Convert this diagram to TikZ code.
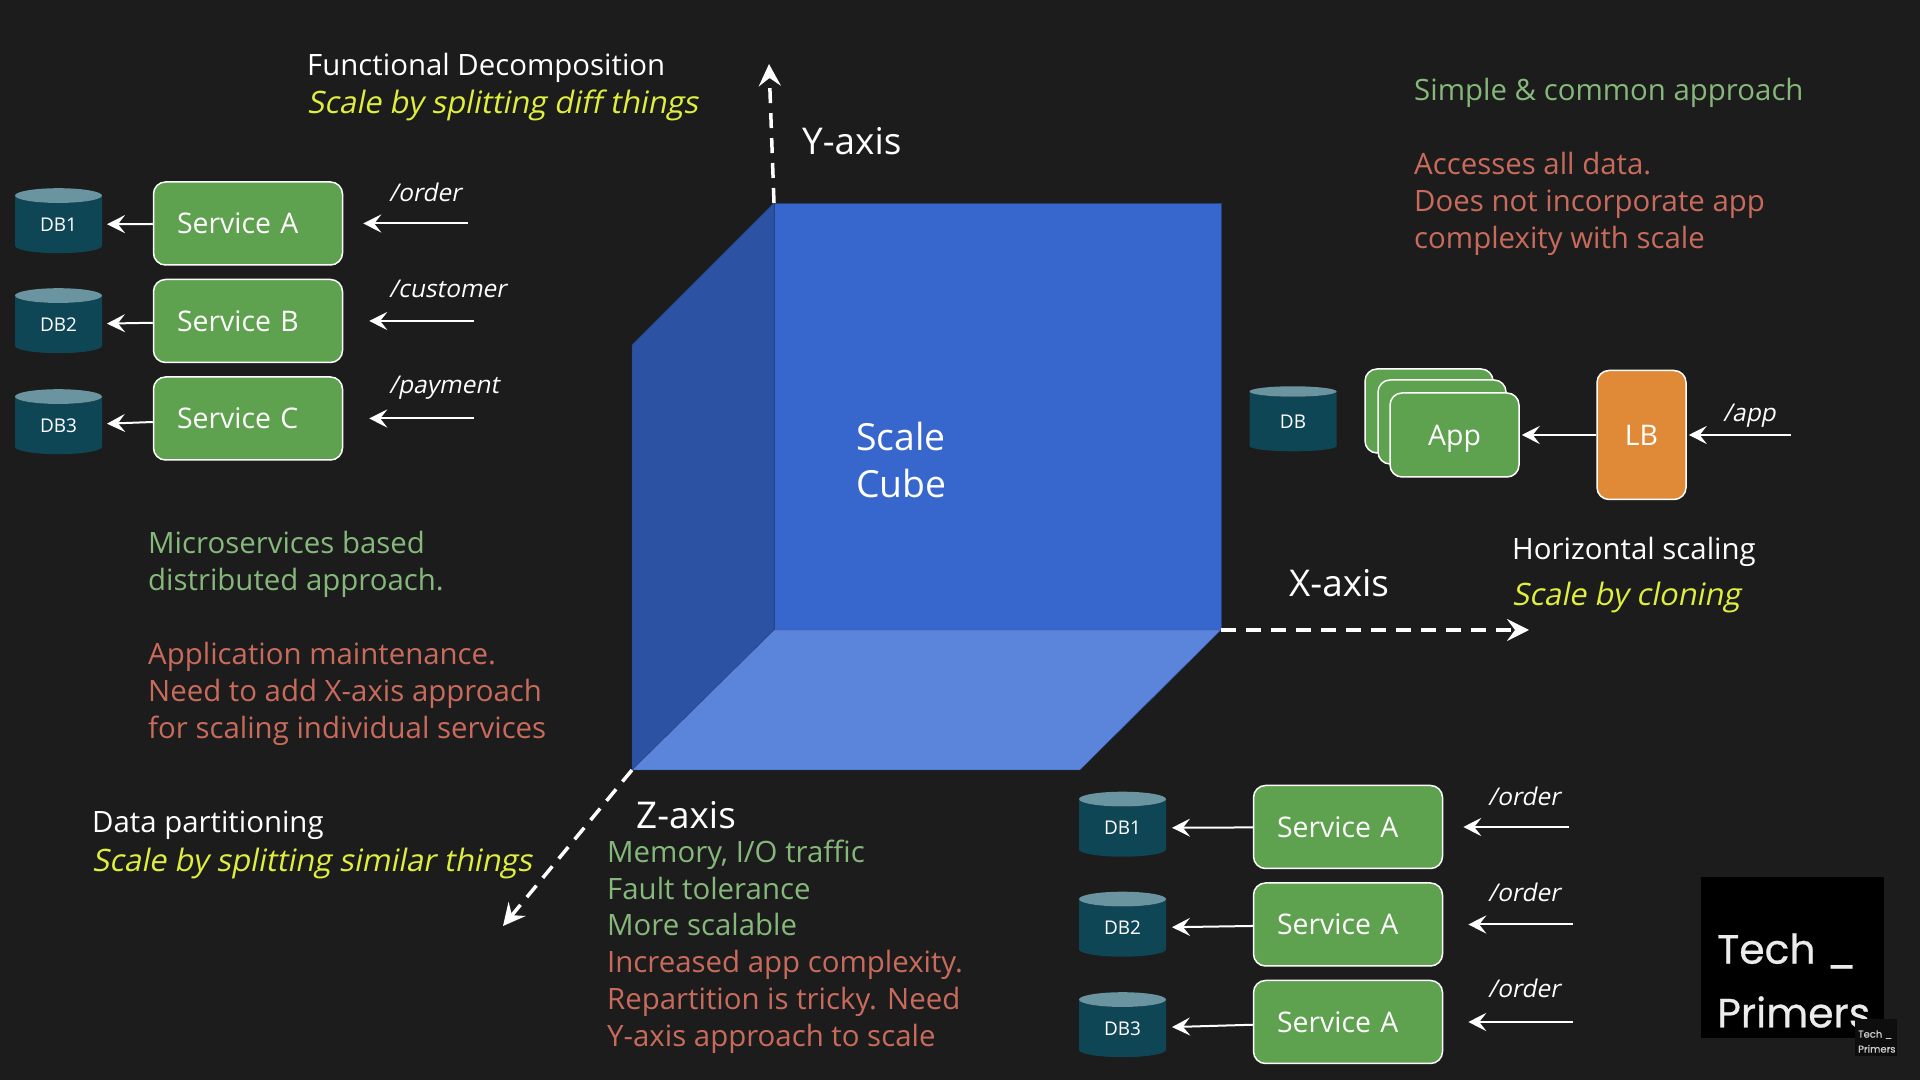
\documentclass[tikz,border=0pt]{standalone}
\usepackage{fontspec}
\setmainfont{Open Sans}
\newfontfamily\slantfont[FakeSlant=0.2]{Open Sans}
\newfontfamily\logofont[FakeBold=0.6]{Poppins}
\usetikzlibrary{arrows.meta,shapes.geometric}
\definecolor{bgdark}{HTML}{1C1C1C}
\definecolor{cubefront}{HTML}{3767CC}
\definecolor{cubeleft}{HTML}{2B52A3}
\definecolor{cubefloor}{HTML}{5B85DB}
\definecolor{cubeedge}{HTML}{24427F}
\definecolor{boxgreen}{HTML}{5EA14E}
\definecolor{boxorange}{HTML}{E08A38}
\definecolor{txtgreen}{HTML}{85B87A}
\definecolor{txtred}{HTML}{C96B5C}
\definecolor{txtyellow}{HTML}{E0EE3C}
\definecolor{dbbody}{HTML}{0F4656}
\definecolor{dbtop}{HTML}{6A949F}
\tikzset{
  svcbox/.style={draw=white,line width=1.5bp,fill=boxgreen,rounded corners=12bp,text=white,
    minimum width=189bp,minimum height=83bp,inner sep=0pt,text width=142bp,align=left,
    font=\fontsize{28.5}{32}\selectfont},
  stackbox/.style={svcbox,text width=,align=center,text depth=0pt},
  dbcyl/.style={cylinder,shape border rotate=90,aspect=0.4,draw=none,cylinder uses custom fill,
    cylinder body fill=dbbody,cylinder end fill=dbtop,text=white,inner sep=0pt,outer sep=0pt,
    minimum width=87bp,minimum height=65bp,font=\fontsize{19}{22}\selectfont},
  blurb/.style={anchor=west,align=left,inner sep=0pt,font=\fontsize{29.5}{37}\selectfont},
  tagline/.style={blurb,text=txtyellow,font=\slantfont\fontsize{31}{37}\selectfont},
  route/.style={anchor=base west,inner sep=0pt,text=white,font=\slantfont\fontsize{24.5}{28}\selectfont},
  axislabel/.style={anchor=west,inner sep=0pt,text=white,font=\fontsize{37}{40}\selectfont},
  logotext/.style={anchor=west,inner sep=0pt,text=white!92!black,font=\logofont\fontsize{41}{48}\selectfont},
  flow/.style={white,line width=2bp,->},
  axisline/.style={white,line width=3.5bp,dash pattern=on 15bp off 10bp,-{Stealth[length=22bp,width=22bp,inset=8bp]}},
}
\begin{document}
\begin{tikzpicture}[>={Stealth[length=18bp,width=18bp,inset=7bp]},line join=bevel,]
\useasboundingbox (0bp,0bp) rectangle (1920bp,1080bp);
\fill [bgdark] (0bp,0bp) rectangle (1920bp,1080bp);
%% the cube
\coordinate (back_tl) at (774bp,877bp);
\coordinate (back_tr) at (1221bp,877bp);
\coordinate (back_br) at (1221bp,450bp);
\coordinate (back_bl) at (774bp,450bp);
\coordinate (left_t) at (632bp,735bp);
\coordinate (left_b) at (632bp,310bp);
\coordinate (floor_r) at (1080bp,310bp);
\fill [cubefront,draw=cubeedge] (back_tl) -- (back_tr) -- (back_br) -- (back_bl) -- cycle;
\fill [cubeleft,draw=cubeedge] (back_tl) -- (left_t) -- (left_b) -- (back_bl) -- cycle;
\fill [cubefloor,draw=cubeedge] (back_bl) -- (back_br) -- (floor_r) -- (left_b) -- cycle;
\node (cube_lbl) at (856bp,620bp) [axislabel,align=left,font=\fontsize{37.5}{47}\selectfont] {Scale\\Cube};
%% axes
\coordinate (y_end) at (769bp,1016bp);
\coordinate (x_end) at (1529bp,450bp);
\coordinate (z_end) at (503bp,154bp);
\draw [axisline] (back_tl) -- (y_end);
\draw [axisline] (back_br) -- (x_end);
\draw [axisline] (left_b) -- (z_end);
\node (y_lbl) at (802bp,939bp) [axislabel] {Y-axis};
\node (x_lbl) at (1289bp,497bp) [axislabel] {X-axis};
\node (z_lbl) at (636bp,265bp) [axislabel] {Z-axis};
%% functional decomposition
\node (func_t) at (307bp,1012bp) [blurb,text=white] {Functional Decomposition};
\node (func_s) at (307bp,975bp) [tagline] {Scale by splitting diff things};
\node (svc_a) at (248bp,856.5bp) [svcbox] {Service A};
\node (svc_b) at (248bp,759bp) [svcbox] {Service B};
\node (svc_c) at (248bp,661.5bp) [svcbox] {Service C};
\node (db_1) at (58.5bp,855.5bp) [dbcyl] {DB1};
\node (db_2) at (58.5bp,755.5bp) [dbcyl] {DB2};
\node (db_3) at (58.5bp,654.5bp) [dbcyl] {DB3};
\coordinate (in_a) at (468bp,856.5bp);
\coordinate (in_b) at (474bp,759bp);
\coordinate (in_c) at (474bp,661.5bp);
\draw [flow,shorten >=20bp] (in_a) -- (svc_a);
\draw [flow,shorten >=26bp] (in_b) -- (svc_b);
\draw [flow,shorten >=26bp] (in_c) -- (svc_c);
\draw [flow,shorten >=5bp] (svc_a) -- (db_1);
\draw [flow,shorten >=5bp] (svc_b) -- (db_2);
\draw [flow,shorten >=5bp] (svc_c) -- (db_3);
\node (rt_a) at (389bp,878bp) [route] {/order};
\node (rt_b) at (389bp,782bp) [route] {/customer};
\node (rt_c) at (389bp,686bp) [route] {/payment};
\node (micro_g) at (148bp,516bp) [blurb,text=txtgreen] {Microservices based\\distributed approach.};
\node (micro_r) at (148bp,386bp) [blurb,text=txtred] {Application maintenance.\\Need to add X-axis approach\\for scaling individual services};
%% horizontal scaling
\node (horiz_top) at (1414bp,987bp) [blurb,text=txtgreen] {Simple \& common approach};
\node (horiz_red) at (1414bp,876bp) [blurb,text=txtred] {Accesses all data.\\Does not incorporate app\\complexity with scale};
\node (db_0) at (1293bp,658.5bp) [dbcyl] {DB};
\node (app_c) at (1429bp,669bp) [stackbox,minimum width=128bp,minimum height=84bp] {};
\node (app_b) at (1442bp,658bp) [stackbox,minimum width=128bp,minimum height=84bp] {};
\node (app_a) at (1454.5bp,645bp) [stackbox,minimum width=129bp,minimum height=84bp] {App};
\node (lb) at (1641.5bp,645bp) [stackbox,fill=boxorange,minimum width=89bp,minimum height=129bp] {LB};
\coordinate (in_app) at (1791bp,645bp);
\draw [flow,shorten >=2bp] (lb) -- (app_a);
\draw [flow,shorten >=2bp] (in_app) -- (lb);
\node (rt_app) at (1723bp,658bp) [route] {/app};
\node (horiz_t) at (1512bp,528bp) [blurb,text=white] {Horizontal scaling};
\node (horiz_s) at (1512bp,483bp) [tagline] {Scale by cloning};
%% data partitioning
\node (data_t) at (92bp,255bp) [blurb,text=white] {Data partitioning};
\node (data_s) at (92bp,217bp) [tagline] {Scale by splitting similar things};
\node (data_g) at (607bp,192bp) [blurb,text=txtgreen] {Memory, I/O traffic\\Fault tolerance\\More scalable};
\node (data_r) at (607bp,78bp) [blurb,text=txtred] {Increased app complexity.\\Repartition is tricky. Need\\Y-axis approach to scale};
\node (svc_p) at (1348bp,253bp) [svcbox] {Service A};
\node (svc_q) at (1348bp,155.5bp) [svcbox] {Service A};
\node (svc_r) at (1348bp,58bp) [svcbox] {Service A};
\node (db_p) at (1122.5bp,252bp) [dbcyl] {DB1};
\node (db_q) at (1122.5bp,152bp) [dbcyl] {DB2};
\node (db_r) at (1122.5bp,51.5bp) [dbcyl] {DB3};
\coordinate (in_p) at (1569bp,253bp);
\coordinate (in_q) at (1573bp,155.5bp);
\coordinate (in_r) at (1573bp,58bp);
\draw [flow,shorten >=20bp] (in_p) -- (svc_p);
\draw [flow,shorten >=25bp] (in_q) -- (svc_q);
\draw [flow,shorten >=25bp] (in_r) -- (svc_r);
\draw [flow,shorten >=6bp] (svc_p) -- (db_p);
\draw [flow,shorten >=6bp] (svc_q) -- (db_q);
\draw [flow,shorten >=6bp] (svc_r) -- (db_r);
\node (rt_p) at (1488bp,274bp) [route] {/order};
\node (rt_q) at (1488bp,178bp) [route] {/order};
\node (rt_r) at (1488bp,82bp) [route] {/order};
%% logo
\node (logo) at (1792.5bp,122.5bp) [fill=black,minimum width=183bp,minimum height=161bp] {};
\node (logo_t) at (1717bp,129bp) [logotext] {Tech \_};
\node (logo_p) at (1717bp,68bp) [logotext] {Primers};
\node (logo_m) at (1876bp,42.5bp) [fill=bgdark!50!black,minimum width=42bp,minimum height=37bp,inner sep=0pt] {};
\node (logo_n) at (1858bp,38.5bp) [anchor=west,inner sep=0pt,align=left,text=white!80!black,font=\logofont\fontsize{10}{15}\selectfont] {Tech \_\\Primers};
%
\end{tikzpicture}
\end{document}
